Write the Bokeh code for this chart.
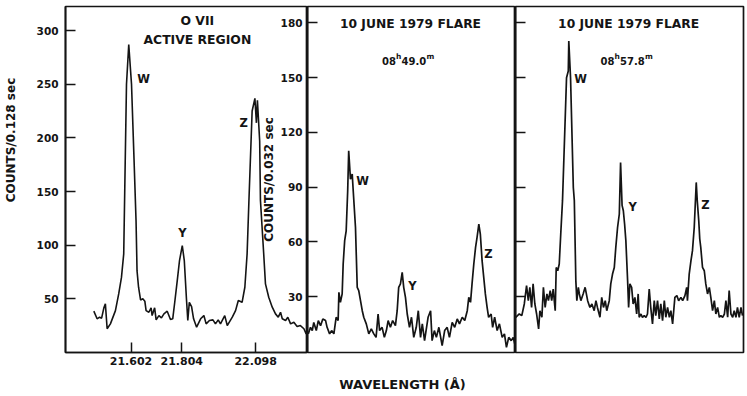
from math import pi
from bokeh.plotting import figure
from bokeh.models import FixedTicker, NumeralTickFormatter, Label, Range1d, GridBox
from bokeh.embed import file_html
from bokeh.resources import INLINE

FONT = "DejaVu Sans"
INK = "#141414"

# ---------------- data (wavelength in Angstrom, counts) ----------------
wl1 = [21.454, 21.467, 21.477, 21.485, 21.494, 21.500, 21.507, 21.520, 21.540, 21.553,
       21.564, 21.573, 21.577, 21.584, 21.593, 21.604, 21.614, 21.622, 21.626, 21.632,
       21.640, 21.649, 21.657, 21.662, 21.673, 21.682, 21.686, 21.696, 21.702, 21.713,
       21.723, 21.733, 21.746, 21.759, 21.768, 21.776, 21.786, 21.795, 21.806, 21.814,
       21.823, 21.828, 21.834, 21.843, 21.851, 21.863, 21.879, 21.892, 21.901, 21.914,
       21.928, 21.938, 21.949, 21.958, 21.975, 21.985, 22.005, 22.018, 22.029, 22.044,
       22.055, 22.064, 22.071, 22.084, 22.095, 22.101, 22.105, 22.114, 22.117, 22.130,
       22.137, 22.150, 22.164, 22.177, 22.188, 22.197, 22.204, 22.217, 22.226, 22.237,
       22.250, 22.263, 22.276, 22.290, 22.299, 22.303]
counts1 = [38.5, 31.4, 32.9, 32.0, 41.6, 45.3, 22.1, 26.7, 39.0, 54.6,
           70.0, 91.9, 150, 250, 287, 250, 180, 123, 76, 60.8,
           49, 50, 47.8, 39, 37.5, 41.6, 34.4, 41.6, 30.4, 34.4,
           32.3, 36, 38.5, 30.7, 31.4, 46.8, 67, 85.7, 99.6, 85.7,
           48.4, 29.8, 46.8, 42.8, 31.4, 23.6, 31.4, 34.4, 26.7, 29.8,
           30.4, 26.7, 30.4, 26.7, 34.4, 25.1, 32.9, 39, 48.4, 46.8,
           60.8, 91.9, 140, 225, 236.8, 214, 235, 197, 142, 92,
           64, 51.5, 42.2, 36, 32.9, 37.5, 31.4, 29.8, 32.9, 26.7,
           28.2, 24.2, 25.1, 22.1, 17.4, 22]

wl2 = [21.438, 21.447, 21.454, 21.460, 21.470, 21.478, 21.487, 21.496, 21.507, 21.513,
       21.523, 21.531, 21.540, 21.549, 21.557, 21.560, 21.566, 21.573, 21.577, 21.583,
       21.589, 21.595, 21.599, 21.606, 21.613, 21.617, 21.626, 21.633, 21.639, 21.646,
       21.653, 21.659, 21.669, 21.679, 21.689, 21.699, 21.708, 21.716, 21.722, 21.732,
       21.741, 21.749, 21.756, 21.765, 21.774, 21.785, 21.792, 21.798, 21.805, 21.812,
       21.818, 21.825, 21.832, 21.841, 21.849, 21.858, 21.868, 21.876, 21.885, 21.892,
       21.901, 21.907, 21.915, 21.925, 21.931, 21.940, 21.948, 21.958, 21.971, 21.981,
       21.991, 22.000, 22.011, 22.021, 22.031, 22.040, 22.051, 22.061, 22.071, 22.077,
       22.084, 22.090, 22.097, 22.104, 22.110, 22.117, 22.123, 22.130, 22.143, 22.150,
       22.156, 22.166, 22.172, 22.180, 22.190, 22.199, 22.210, 22.219, 22.227, 22.236,
       22.246, 22.254, 22.260]
counts2 = [9.6, 13.2, 11.4, 15.9, 11.4, 16.9, 14.1, 17.8, 16.9, 13.2,
           9.6, 11.4, 9.6, 18.7, 16.9, 32.4, 26.9, 31.5, 47.9, 60.7,
           66.1, 88, 109.9, 94.4, 97.2, 88, 68, 35.1, 33.3, 27.8,
           22.3, 18.7, 15.1, 9.6, 12.3, 9.6, 7.7, 20.5, 11.4, 13.2,
           7.7, 11.4, 16.9, 13.2, 16.9, 14.1, 22.3, 35.1, 37, 43.3,
           35.1, 29.6, 20.5, 13.2, 18.7, 7.7, 13.2, 22.3, 7.7, 15.1,
           5.9, 11.4, 18.7, 22.3, 5.9, 11.4, 7.7, 13.2, 3.2, 11.4,
           13.2, 7.7, 15.9, 13.2, 17.8, 15.1, 18.7, 16.9, 22.3, 29.6,
           26.9, 37, 47.9, 57, 62.5, 69.8, 64.3, 49.7, 31.5, 24.1,
           18.7, 20.5, 13.2, 18.7, 11.4, 15.1, 7.7, 9.6, 2.2, 7.7,
           5.9, 7.7, 4.1]

wl3 = [21.392, 21.406, 21.416, 21.426, 21.435, 21.442, 21.448, 21.455, 21.461, 21.468,
       21.475, 21.483, 21.488, 21.496, 21.502, 21.509, 21.516, 21.522, 21.529, 21.535,
       21.541, 21.549, 21.553, 21.559, 21.565, 21.571, 21.578, 21.594, 21.601, 21.603,
       21.610, 21.621, 21.625, 21.631, 21.635, 21.641, 21.645, 21.651, 21.660, 21.668,
       21.678, 21.687, 21.695, 21.704, 21.711, 21.717, 21.727, 21.734, 21.741, 21.748,
       21.754, 21.764, 21.770, 21.777, 21.784, 21.790, 21.797, 21.804, 21.809, 21.815,
       21.820, 21.825, 21.830, 21.837, 21.841, 21.846, 21.853, 21.859, 21.866, 21.873,
       21.879, 21.883, 21.890, 21.896, 21.903, 21.910, 21.916, 21.923, 21.929, 21.936,
       21.943, 21.949, 21.956, 21.963, 21.969, 21.976, 21.983, 21.989, 21.996, 22.003,
       22.009, 22.016, 22.025, 22.033, 22.040, 22.049, 22.056, 22.065, 22.072, 22.075,
       22.082, 22.089, 22.095, 22.102, 22.110, 22.114, 22.120, 22.124, 22.128, 22.135,
       22.142, 22.148, 22.155, 22.162, 22.168, 22.175, 22.182, 22.188, 22.195, 22.202,
       22.208, 22.215, 22.222, 22.228, 22.235, 22.241, 22.248, 22.255, 22.261, 22.268,
       22.274, 22.281, 22.288, 22.294]
counts3 = [18.7, 20.5, 19.6, 26, 36, 27.8, 35.1, 24.1, 37, 26,
           20.5, 12.3, 22.3, 18.7, 35.1, 24.1, 31.5, 27.8, 33.3, 27.8,
           34.2, 22.3, 46, 44.2, 47.9, 64.3, 82.6, 150, 153.7, 170.1,
           150, 89.8, 82.6, 38.8, 27.8, 35.1, 31.5, 27.8, 31.5, 35.1,
           27.8, 24.1, 26, 22.3, 27.8, 24.1, 18.7, 29.6, 24.1, 27.8,
           22.3, 27.8, 37, 42.4, 46, 57, 67.9, 75.3, 103.5, 80,
           77.1, 69.8, 60.7, 38.8, 24.1, 37, 35.1, 26, 29.6, 20.5,
           31.5, 18.7, 20.5, 18.7, 19.6, 18.7, 20.5, 34.2, 24.1, 15.1,
           27.8, 19.6, 27.8, 17.8, 26, 16.9, 27.8, 18.7, 24.1, 18.7,
           22.3, 15.1, 29.6, 30.6, 27.8, 29.6, 27.8, 30.6, 35.1, 27.8,
           42.4, 49.7, 55.2, 67.9, 92.6, 82.6, 71.6, 61.6, 57, 46,
           44.2, 37, 31.5, 35.1, 29.6, 22.3, 27.8, 20.5, 24.1, 18.7,
           19.6, 18.7, 20.5, 27.8, 18.7, 33.3, 20.5, 18.7, 22.3, 18.7,
           24.1, 18.7, 24.1, 19.6]

ticks_y1 = [50, 100, 150, 200, 250, 300]
ticks_y2 = [30, 60, 90, 120, 150, 180]
ticks_x1 = [21.602, 21.804, 22.098]

H = 396


def make_fig(width, xr, yr, left, right, xaxis):
    p = figure(width=width, height=H, x_range=Range1d(*xr), y_range=Range1d(*yr),
               output_backend="svg", toolbar_location=None,
               x_axis_location="below" if xaxis else None,
               min_border_left=left, min_border_right=right,
               min_border_top=6, min_border_bottom=44)
    p.xgrid.visible = False
    p.ygrid.visible = False
    p.outline_line_color = INK
    p.outline_line_width = 1.7
    p.outline_line_alpha = 1.0
    p.background_fill_color = None
    p.border_fill_color = None
    return p


def style_axis(ax, ticks, labels=True, size="10.5px", standoff=5):
    ax.ticker = FixedTicker(ticks=ticks)
    ax.major_tick_in = 10
    ax.major_tick_out = 0
    ax.minor_tick_in = 0
    ax.minor_tick_out = 0
    ax.axis_line_color = INK
    ax.axis_line_width = 1.7
    ax.major_tick_line_color = INK
    ax.major_tick_line_width = 1.5
    ax.major_label_text_font = FONT
    ax.major_label_text_font_style = "bold"
    ax.major_label_standoff = standoff
    ax.major_label_text_font_size = size
    if labels:
        ax.major_label_text_color = INK
    else:
        ax.major_label_text_color = None
        ax.major_label_text_alpha = 0
        ax.major_label_text_font_size = "1px"
        ax.major_label_standoff = 0


def lab(p, x, y, text, size="11.5px", align="center", baseline="middle", angle=0, x_offset=0):
    p.add_layout(Label(x=x, y=y, text=text, text_font=FONT, text_font_style="bold",
                       text_font_size=size, text_color=INK, text_align=align,
                       text_baseline=baseline, angle=angle, x_offset=x_offset))


# ---------------- panel 1 : active region ----------------
p1 = make_fig(307, (21.3413, 22.3043), (0, 322.4), 65, 0, True)
p1.border_fill_color = "white"
p1.background_fill_color = "white"
style_axis(p1.yaxis[0], ticks_y1, standoff=7)
style_axis(p1.xaxis[0], ticks_x1, size="11px", standoff=4)
p1.xaxis[0].formatter = NumeralTickFormatter(format="0.000")
p1.line(wl1, counts1, line_color=INK, line_width=1.6)
lab(p1, 21.866, 309.3, "O VII", size="12.4px")
lab(p1, 21.866, 291.6, "ACTIVE REGION", size="12.4px")
lab(p1, 21.652, 255.3, "W")
lab(p1, 21.807, 110.9, "Y")
lab(p1, 22.050, 213.4, "Z")

# ---------------- panel 2 : flare 08h49.0m ----------------
p2 = make_fig(258, (21.435, 22.263), (-0.6, 189), 50, 0, False)
style_axis(p2.yaxis[0], ticks_y2, standoff=5)
p2.yaxis[0].axis_label = "COUNTS/0.032 sec"
p2.yaxis[0].axis_label_text_font = FONT
p2.yaxis[0].axis_label_text_font_style = "bold"
p2.yaxis[0].axis_label_text_font_size = "12px"
p2.yaxis[0].axis_label_text_color = INK
p2.yaxis[0].axis_label_standoff = 2
p2.line(wl2, counts2, line_color=INK, line_width=1.7)
lab(p2, 21.845, 179.6, "10 JUNE 1979 FLARE", size="12.3px")
lab(p2, 21.732, 159.2, "08", size="10px", align="left", baseline="alphabetic")
lab(p2, 21.732, 161.6, "h", size="7.5px", align="left", baseline="alphabetic", x_offset=14)
lab(p2, 21.732, 159.2, "49.0", size="10px", align="left", baseline="alphabetic", x_offset=19.5)
lab(p2, 21.732, 161.6, "m", size="7.5px", align="left", baseline="alphabetic", x_offset=44.5)
lab(p2, 21.654, 93.5, "W")
lab(p2, 21.853, 36.0, "Y")
lab(p2, 22.155, 53.5, "Z")

# ---------------- panel 3 : flare 08h57.8m ----------------
p3 = make_fig(240, (21.391, 22.298), (-0.6, 189), 10, 2, False)
style_axis(p3.yaxis[0], ticks_y2, labels=False)
p3.line(wl3, counts3, line_color=INK, line_width=1.7)
lab(p3, 21.841, 179.4, "10 JUNE 1979 FLARE", size="12.3px")
lab(p3, 21.729, 159.2, "08", size="10px", align="left", baseline="alphabetic")
lab(p3, 21.729, 161.6, "h", size="7.5px", align="left", baseline="alphabetic", x_offset=14)
lab(p3, 21.729, 159.2, "57.8", size="10px", align="left", baseline="alphabetic", x_offset=19.5)
lab(p3, 21.729, 161.6, "m", size="7.5px", align="left", baseline="alphabetic", x_offset=44.5)
lab(p3, 21.650, 149.3, "W")
lab(p3, 21.857, 79.3, "Y")
lab(p3, 22.147, 80.3, "Z")

# ---------------- shared texts (page pixel frame) ----------------
ov = figure(width=745, height=H, x_range=Range1d(0, 745), y_range=Range1d(0, H),
            output_backend="svg", toolbar_location=None,
            x_axis_location=None, y_axis_location=None,
            min_border_left=0, min_border_right=0, min_border_top=0, min_border_bottom=0)
if "frame_align" in ov.properties():
    ov.frame_align = False
ov.xgrid.visible = False
ov.ygrid.visible = False
ov.outline_line_color = None
ov.background_fill_color = None
ov.border_fill_color = None
lab(ov, 10, 256.5, "COUNTS/0.128 sec", size="12px", angle=pi / 2)
lab(ov, 402, 12, "WAVELENGTH (Å)", size="13px")

layout = GridBox(children=[(p1, 0, 0, 1, 2), (p2, 0, 1, 1, 3), (p3, 0, 3, 1, 2), (ov, 0, 0, 1, 5)],
                 cols=["257px", "50px", "198px", "10px", "230px"],
                 rows=["396px"], spacing=0)

open("out.html", "w").write(file_html(layout, INLINE))
